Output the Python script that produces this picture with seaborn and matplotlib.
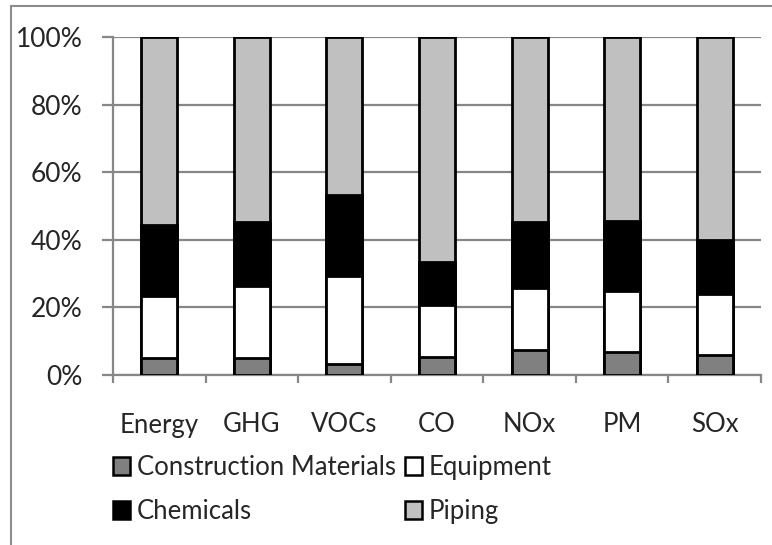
import matplotlib
matplotlib.use("Agg")
import matplotlib.pyplot as plt
from matplotlib.patches import Patch, Rectangle
from matplotlib.ticker import FuncFormatter, FixedLocator
import numpy as np
import pandas as pd
import seaborn as sns

# Share of each impact category (%) by source
categories = ["Energy", "GHG", "VOCs", "CO", "NOx", "PM", "SOx"]
construction_materials = [5.1, 5.1, 3.3, 5.4, 7.4, 6.9, 5.9]
equipment = [18.3, 21.1, 26.0, 15.3, 18.4, 18.0, 18.0]
chemicals = [21.0, 19.1, 24.1, 12.6, 19.5, 20.8, 16.1]
piping = [55.6, 54.7, 46.6, 66.7, 54.7, 54.3, 60.0]

series = {
    "Construction Materials": construction_materials,
    "Equipment": equipment,
    "Chemicals": chemicals,
    "Piping": piping,
}
colors = {
    "Construction Materials": "#808080",
    "Equipment": "#FFFFFF",
    "Chemicals": "#000000",
    "Piping": "#C0C0C0",
}
y_ticks = [0, 20, 40, 60, 80, 100]

sns.set_theme(style="white")
plt.rcParams["font.family"] = ["Lato", "DejaVu Sans"]

df = pd.DataFrame(series, index=categories)
cum = df.cumsum(axis=1)

fig = plt.figure(figsize=(7.72, 5.45), dpi=100)
ax = fig.add_axes([113 / 772, 1 - 375 / 545, (761 - 113) / 772, (375 - 37) / 545])

grid_gray = "#878787"
ax.set_axisbelow(True)
ax.yaxis.grid(True, color=grid_gray, linewidth=1.6)

# Stacked bars: draw cumulative totals from the top layer down
for name in reversed(list(series.keys())):
    data = pd.DataFrame({"category": categories, "value": cum[name].values})
    sns.barplot(data=data, x="category", y="value", order=categories,
                color=colors[name], saturation=1, width=0.39,
                edgecolor="black", linewidth=2.0, ax=ax, zorder=3)

ax.set_xlim(-0.5, len(categories) - 0.5)
ax.set_ylim(0, 100)
ax.yaxis.set_major_locator(FixedLocator(y_ticks))
ax.yaxis.set_major_formatter(FuncFormatter(lambda v, p: f"{v:.0f}%"))
ax.set_xlabel("")
ax.set_ylabel("")

# Category boundary ticks on the x axis, labels centred under the bars
ax.set_xticks(np.arange(len(categories)))
ax.set_xticklabels(categories)
ax.tick_params(axis="x", which="major", length=0, pad=27, labelsize=18.5)
ax.set_xticks(np.arange(len(categories) + 1) - 0.5, minor=True)
ax.tick_params(axis="x", which="minor", length=6, width=1.6, color=grid_gray,
               direction="out", bottom=True)
ax.tick_params(axis="y", length=8, width=1.6, color=grid_gray, direction="out",
               left=True, pad=14, labelsize=19)

for side in ["top", "right"]:
    ax.spines[side].set_visible(False)
for side in ["left", "bottom"]:
    ax.spines[side].set_color(grid_gray)
    ax.spines[side].set_linewidth(1.6)

handles = [Patch(facecolor=colors[n], edgecolor="black", linewidth=1.8, label=n)
           for n in ["Construction Materials", "Chemicals", "Equipment", "Piping"]]
fig.legend(handles=handles, ncol=2, loc="upper left",
           bbox_to_anchor=(113 / 772, 1 - 455 / 545), frameon=False,
           fontsize=18.5, handlelength=0.68, handleheight=0.68,
           handletextpad=0.25, columnspacing=0.35, labelspacing=0.75,
           borderaxespad=0, borderpad=0)

# Chart area outline
fig.patches.append(Rectangle((11 / 772, -0.1), 1.2, 1 - 6 / 545 + 0.1,
                             transform=fig.transFigure, fill=False,
                             edgecolor="#8C8C8C", linewidth=1.5))

fig.savefig("out.png", dpi=100)
